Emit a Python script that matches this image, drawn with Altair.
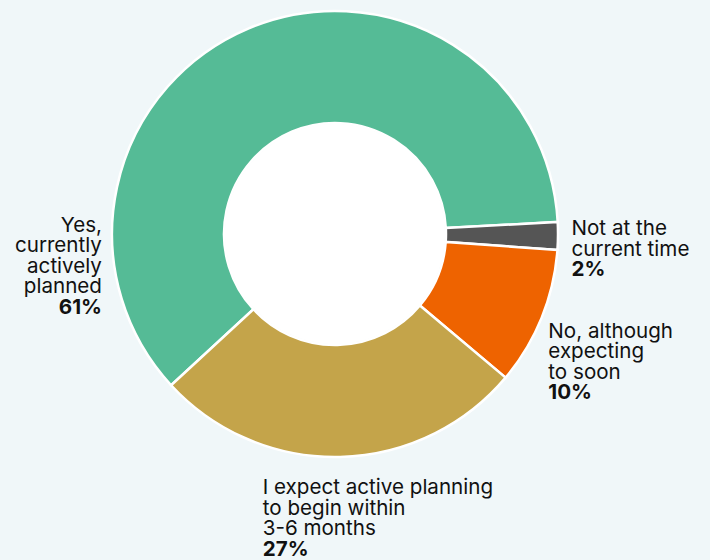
import math
import altair as alt
import pandas as pd

# ---- data ----
categories = [
    "Yes, currently actively planned",
    "Not at the current time",
    "No, although expecting to soon",
    "I expect active planning to begin within 3-6 months",
]
values = [61, 2, 10, 27]
label_lines = [
    ["Yes,", "currently", "actively", "planned"],
    ["Not at the", "current time"],
    ["No, although", "expecting", "to soon"],
    ["I expect active planning", "to begin within", "3-6 months"],
]
pct_labels = ["61%", "2%", "10%", "27%"]

# ---- styles ----
colors = ["#55bb96", "#555555", "#ee6300", "#c4a44a"]
BG = "#f0f7f9"
FONT = "Inter"
FS = 20.6
LH = 20.5
R_OUT, R_IN, R_LAB = 223, 111, 235
START = math.radians(227.3)
# per label: align, dx, dy (offset from the slice's mid-angle point at R_LAB)
label_style = [
    ("right", -141.6, 214.4),
    ("left", 1.5, -1.0),
    ("left", -4.4, 15.3),
    ("left", -77.6, 25.4),
]

ends = pd.Series(values).cumsum()
df = pd.DataFrame({
    "idx": list(range(len(categories))),
    "category": categories,
    "value": values,
    "start": ends - pd.Series(values),
    "end": ends,
    "pct": pct_labels,
})
df["mid"] = (df["start"] + df["end"]) / 2
for j in range(max(len(l) for l in label_lines)):
    df[f"line{j}"] = [l[j] if j < len(l) else "" for l in label_lines]

theta_scale = alt.Scale(domain=[0, 100], range=[START, START + 2 * math.pi])
color_scale = alt.Scale(domain=categories, range=colors)

base = alt.Chart(df)

arcs = base.mark_arc(radius=R_OUT, radius2=R_IN, stroke="white", strokeWidth=2.5).encode(
    theta=alt.Theta("start:Q", scale=theta_scale),
    theta2="end:Q",
    color=alt.Color("category:N", scale=color_scale, legend=None),
)

hole = alt.Chart(pd.DataFrame({"s": [0], "e": [100]})).mark_arc(
    radius=R_IN - 1, radius2=0, color="white"
).encode(theta=alt.Theta("s:Q", scale=theta_scale), theta2="e:Q")

layers = [hole, arcs]
for i, (al, dx, dy) in enumerate(label_style):
    n = len(label_lines[i])
    for j in range(n):
        layers.append(
            base.transform_filter(alt.datum.idx == i).mark_text(
                radius=R_LAB, align=al, baseline="alphabetic", dx=dx, dy=dy + j * LH,
                font=FONT, fontSize=FS, color="#111111",
            ).encode(theta=alt.Theta("mid:Q", scale=theta_scale), text=f"line{j}:N")
        )
    layers.append(
        base.transform_filter(alt.datum.idx == i).mark_text(
            radius=R_LAB, align=al, baseline="alphabetic", dx=dx, dy=dy + n * LH,
            font=FONT, fontSize=FS, fontWeight="bold", color="#111111",
        ).encode(theta=alt.Theta("mid:Q", scale=theta_scale), text="pct:N")
    )

chart = alt.layer(*layers).properties(
    width=670, height=468,
    padding={"left": 0, "top": 0, "right": 40, "bottom": 92},
    autosize=alt.AutoSizeParams(type="none"),
    background=BG,
).configure_view(stroke=None)

chart.save("out.html", embed_options={"renderer": "svg", "actions": False})
